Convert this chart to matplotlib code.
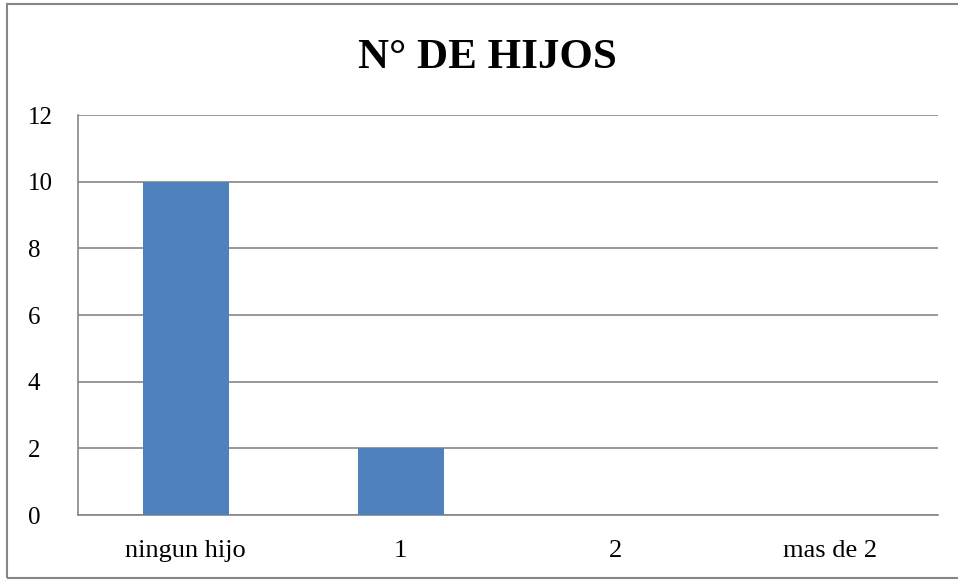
import matplotlib
matplotlib.use("Agg")
import matplotlib.pyplot as plt
from matplotlib.patches import Rectangle

categories = ["ningun hijo", "1", "2", "mas de 2"]
values = [10, 2, 0, 0]
yticks = [0, 2, 4, 6, 8, 10, 12]
title = "N° DE HIJOS"

plt.rcParams['font.family'] = ['Liberation Serif', 'DejaVu Serif']

W, H = 958, 580
fig = plt.figure(figsize=(W / 100, H / 100), dpi=100)

# outer chart border
fig.patches.append(Rectangle((7 / W, 2 / H), (W - 7) / W + 0.01, (H - 6) / H,
                             transform=fig.transFigure, fill=False,
                             edgecolor='#868686', linewidth=1.5))

ax = fig.add_axes([78 / W, (H - 515) / H, (938 - 78) / W, 400 / H])
x = range(len(categories))
ax.bar(x, values, width=0.4, color='#4F81BD', zorder=3)
ax.set_xlim(-0.5, len(categories) - 0.5)
ax.set_ylim(0, 12)
ax.set_yticks(yticks)
ax.set_xticks(list(x))
ax.set_xticklabels(categories)
ax.yaxis.grid(True, color='#868686', linewidth=1.2, zorder=0)
ax.set_axisbelow(True)
for s in ['top', 'right']:
    ax.spines[s].set_visible(False)
for s in ['left', 'bottom']:
    ax.spines[s].set_color('#868686')
    ax.spines[s].set_linewidth(1.2)
ax.tick_params(axis='both', length=0, colors='black')
ax.tick_params(axis='y', labelsize=18, pad=36)
ax.tick_params(axis='x', labelsize=19, pad=18)
for lab in ax.get_yticklabels():
    lab.set_horizontalalignment('left')

fig.text(487 / W, 1 - 58 / H, title, ha='center', va='center',
         fontsize=31, fontweight='bold')

fig.savefig('out.png', dpi=100)
